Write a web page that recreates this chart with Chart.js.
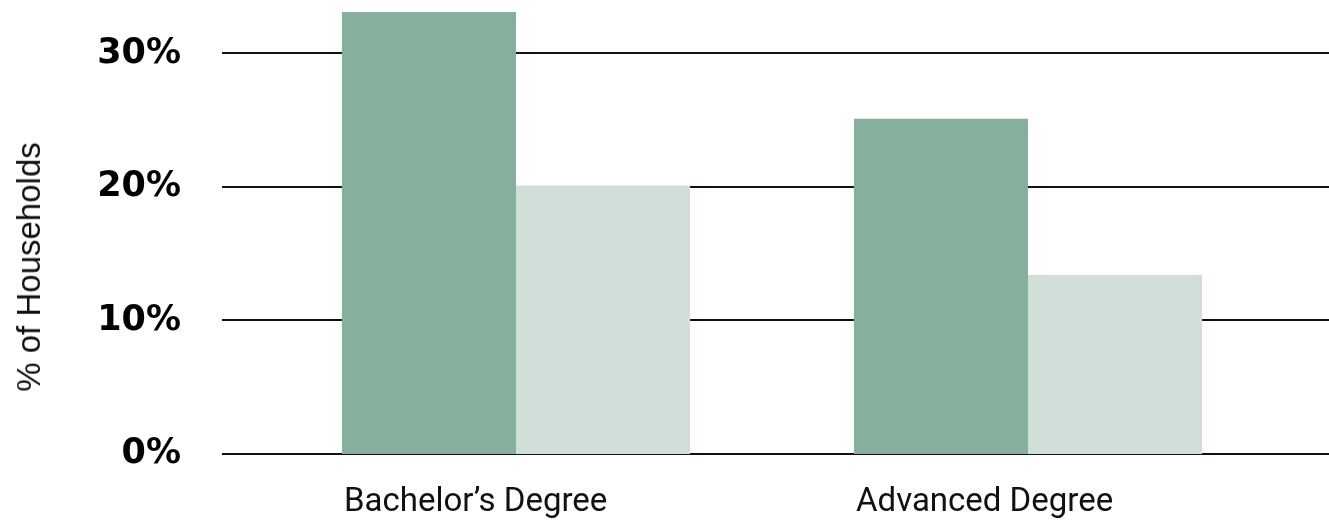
<!DOCTYPE html>
<html>
<head>
<meta charset="utf-8">
<script src="https://cdn.jsdelivr.net/npm/chart.js@4.4.1/dist/chart.umd.min.js"></script>
<style>
  body { margin: 0; background: #fff; }
  #wrap { position: relative; width: 1329px; height: 523px; }
  #yTitle {
    position: absolute; left: 29px; top: 267px;
    transform: translate(-50%, -50%) rotate(-90deg);
    font: 33px "Liberation Sans", Arial, sans-serif;
    color: #111; white-space: nowrap;
  }
</style>
</head>
<body>
<div id="wrap">
  <canvas id="chart" width="1329" height="523"></canvas>
  <div id="yTitle">% of Households</div>
</div>
<script>
const categories = ['Bachelor’s Degree', 'Advanced Degree']
const darkValues = [33.1, 25.1]
const lightValues = [20.1, 13.4]
const yTicks = [0, 10, 20, 30]

// horizontal rules behind the bars, wider than the plot area
const rules = {
  id: 'rules',
  beforeDatasetsDraw(chart) {
    const ctx = chart.ctx
    const y = chart.scales.y
    ctx.save()
    ctx.strokeStyle = '#111'
    ctx.lineWidth = 2
    yTicks.forEach((v) => {
      const py = Math.round(y.getPixelForValue(v))
      ctx.beginPath()
      ctx.moveTo(222, py)
      ctx.lineTo(chart.width, py)
      ctx.stroke()
    })
    ctx.restore()
  }
}

let ctx = document.getElementById('chart').getContext('2d')

let barChart = new Chart(ctx, {
  type: 'bar',
  data: {
    labels: categories,
    datasets: [{
      data: darkValues,
      backgroundColor: '#86B09B'
    }, {
      data: lightValues,
      backgroundColor: '#CFDFD8'
    }]
  },
  options: {
    responsive: false,
    animation: false,
    events: [],
    layout: { padding: { left: 0, right: 45, top: 0, bottom: 0 } },
    plugins: { legend: { display: false }, tooltip: { enabled: false } },
    datasets: { bar: { categoryPercentage: 0.68, barPercentage: 1 } },
    scales: {
      x: {
        grid: { display: false, drawTicks: false },
        border: { display: false },
        ticks: {
          align: 'start',
          labelOffset: -172,
          padding: 29,
          color: '#111',
          font: { family: 'Roboto', size: 33 }
        },
        afterFit(scale) {
          scale.height = 69
          scale.paddingLeft = 0
          scale.paddingRight = 0
        }
      },
      y: {
        min: 0,
        max: 34,
        grid: { display: false, drawTicks: false },
        border: { display: false },
        ticks: {
          stepSize: 10,
          includeBounds: false,
          padding: 79,
          color: '#000',
          font: { family: 'DejaVu Sans', size: 35, weight: 'bold' },
          callback: (v) => v + '%'
        },
        afterFit(scale) {
          scale.width = 260
          scale.paddingTop = 0
          scale.paddingBottom = 0
        }
      }
    }
  },
  plugins: [rules]
})
</script>
</body>
</html>
